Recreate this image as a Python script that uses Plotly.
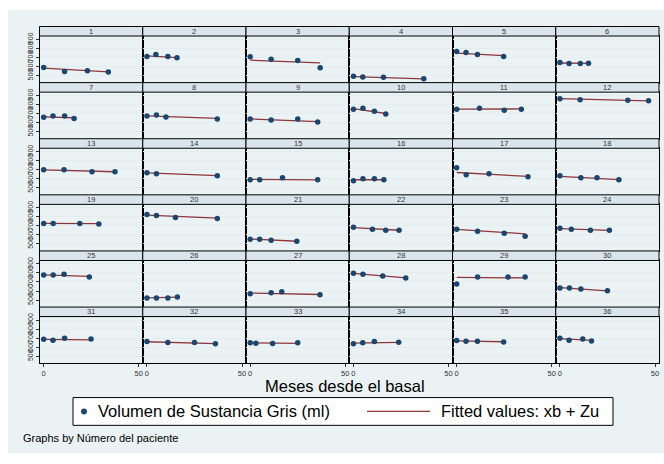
import plotly.graph_objects as go

W, H = 664, 464

patients = list(range(1, 37))
months = [
    [0, 11, 23, 34], [0, 4.7, 11, 15.8], [0, 11, 25, 36.8], [0, 4.9, 15.8, 37],
    [0, 4.9, 10.9, 24.7], [0, 4.8, 10.7, 15],
    [0, 4.9, 11, 16], [0, 5, 10, 37], [0, 11, 25, 35.5], [0, 5, 11, 17],
    [0, 12, 25, 34], [0, 10.6, 35.7, 46.6],
    [0, 10.7, 25.4, 37.5], [0, 5, 37], [0, 5, 17, 35.5], [0, 5, 11, 16],
    [0, 5, 17, 37.5], [0, 11, 19.5, 31],
    [0, 5, 19, 29], [0, 5, 15, 37], [0, 5, 11, 24.5], [0, 10, 17, 24],
    [0, 11, 25, 36], [0, 6, 16, 26],
    [0, 5, 10.7, 24], [0, 5, 11, 16], [0, 11, 16.6, 36.7], [0, 5, 15.4, 27.5],
    [0, 11, 27, 36], [0, 5, 11, 25],
    [0, 4.9, 11, 24.9], [0, 11, 25, 36], [0, 3, 11.8, 25], [0, 4.9, 11, 23.8],
    [0, 4.9, 10.9, 24.7], [0, 4.8, 12, 16.6],
]
volume = [
    [591, 547, 555, 539], [711, 733, 711, 697], [708, 681, 667, 587], [492, 485, 481, 467],
    [766, 755, 733, 711], [645, 634, 634, 638],
    [659, 673, 673, 647], [673, 684, 662, 640], [640, 629, 640, 607], [749, 760, 727, 695],
    [749, 760, 738, 749], [866, 855, 848, 842],
    [700, 700, 678, 678], [667, 656, 634], [590, 590, 612, 590], [580, 601, 601, 590],
    [722, 645, 656, 623], [634, 612, 612, 590],
    [727, 727, 727, 720], [826, 815, 793, 782], [552, 552, 541, 530], [684, 662, 651, 651],
    [662, 640, 618, 585], [673, 662, 651, 651],
    [777, 777, 787, 755], [524, 524, 524, 535], [569, 580, 591, 558], [798, 787, 766, 744],
    [678, 755, 755, 755], [634, 634, 623, 602],
    [687, 676, 698, 691], [662, 651, 651, 637], [648, 643, 640, 648], [637, 648, 662, 654],
    [673, 665, 665, 658], [698, 676, 691, 669],
]
fit_start = [583, 718, 671, 489, 748, 640, 665, 675, 642, 755, 750, 866,
             700, 665, 594, 590, 670, 627, 727, 820, 555, 680, 662, 670,
             778, 524, 578, 795, 752, 638, 686, 660, 647, 645, 670, 695]
fit_end = [541, 700, 642, 465, 722, 636, 655, 648, 612, 702, 752, 842,
           678, 635, 588, 590, 626, 592, 724, 785, 530, 652, 612, 650,
           763, 532, 562, 745, 745, 602, 680, 640, 641, 652, 660, 675]

y_ticks = [500, 600, 700, 800, 900]
x_ticks = [0, 50]

NAVY = "#1a476f"
MAROON = "#90353b"
FONT = "Liberation Sans, Arial, sans-serif"

def px(x):
    return x / W

def py(y):
    return 1 - y / H

fig = go.Figure()
shapes = []
annotations = []

# graph region background
shapes.append(dict(type="rect", xref="paper", yref="paper", x0=px(8), x1=px(664),
                   y0=py(453), y1=py(6), fillcolor="#eaf2f3", line=dict(width=0),
                   layer="below"))

PW = 103.25
LEFT0 = 39.5
TOP0 = 22.7
RH = 56.6
SH = 9.6

layout_axes = {}
for i, pid in enumerate(patients):
    r, c = divmod(i, 6)
    left = LEFT0 + c * PW
    right = left + PW
    stop = TOP0 + r * RH
    sbot = stop + SH
    pbot = stop + RH
    n = i + 1
    xa = "x" if n == 1 else f"x{n}"
    ya = "y" if n == 1 else f"y{n}"
    mx = months[i]
    fig.add_trace(go.Scatter(x=[mx[0], mx[-1]], y=[fit_start[i], fit_end[i]], mode="lines",
                             line=dict(color=MAROON, width=1.3), xaxis=xa, yaxis=ya,
                             showlegend=False, hoverinfo="skip"))
    fig.add_trace(go.Scatter(x=mx, y=volume[i], mode="markers",
                             marker=dict(color=NAVY, size=5.5), xaxis=xa, yaxis=ya,
                             showlegend=False))
    xkey = "xaxis" if n == 1 else f"xaxis{n}"
    ykey = "yaxis" if n == 1 else f"yaxis{n}"
    bottom = (r == 5)
    leftcol = (c == 0)
    layout_axes[xkey] = dict(domain=[px(left), px(right)], range=[-2.2, 52.1],
                             anchor=ya, tickvals=x_ticks, showgrid=False, zeroline=False,
                             showline=True, mirror=True, linecolor="black", linewidth=1,
                             ticks="outside" if bottom else "", ticklen=3, tickcolor="#333",
                             showticklabels=bottom,
                             tickfont=dict(size=7.5, color="#333", family=FONT))
    layout_axes[ykey] = dict(domain=[py(pbot), py(sbot)], range=[423, 938],
                             anchor=xa, tickvals=y_ticks, showgrid=True, gridcolor="#e4ecef",
                             gridwidth=1, zeroline=False,
                             showline=True, mirror=True, linecolor="black", linewidth=1,
                             ticks="outside" if leftcol else "", ticklen=3, tickcolor="#333",
                             showticklabels=leftcol, tickangle=-90,
                             tickfont=dict(size=7, color="#333", family=FONT))
    shapes.append(dict(type="rect", xref="paper", yref="paper", x0=px(left), x1=px(right),
                       y0=py(sbot), y1=py(stop), fillcolor="#d9e5ea",
                       line=dict(color="black", width=1)))
    annotations.append(dict(text=str(pid), xref="paper", yref="paper",
                            x=px((left + right) / 2), y=py((stop + sbot) / 2),
                            showarrow=False, xanchor="center", yanchor="middle",
                            font=dict(size=7.5, color="#333", family=FONT)))

# x axis title
annotations.append(dict(text="Meses desde el basal", xref="paper", yref="paper",
                        x=px(345), y=py(385), showarrow=False, xanchor="center",
                        yanchor="middle", font=dict(size=16.5, color="black", family=FONT)))

# legend (drawn)
shapes.append(dict(type="rect", xref="paper", yref="paper", x0=px(73), x1=px(613),
                   y0=py(425), y1=py(397), fillcolor="white", line=dict(color="black", width=1)))
shapes.append(dict(type="circle", xref="paper", yref="paper", x0=px(81), x1=px(87),
                   y0=py(414), y1=py(408), fillcolor=NAVY, line=dict(width=0)))
shapes.append(dict(type="line", xref="paper", yref="paper", x0=px(367), x1=px(430),
                   y0=py(411), y1=py(411), line=dict(color=MAROON, width=1.3)))
annotations.append(dict(text="Volumen de Sustancia Gris (ml)", xref="paper", yref="paper",
                        x=px(96), y=py(411), showarrow=False, xanchor="left", yanchor="middle",
                        font=dict(size=16.5, color="black", family=FONT)))
annotations.append(dict(text="Fitted values: xb + Zu", xref="paper", yref="paper",
                        x=px(439), y=py(411), showarrow=False, xanchor="left", yanchor="middle",
                        font=dict(size=16.5, color="black", family=FONT)))
annotations.append(dict(text="Graphs by Número del paciente", xref="paper", yref="paper",
                        x=px(21), y=py(438), showarrow=False, xanchor="left", yanchor="middle",
                        font=dict(size=11, color="black", family=FONT)))

fig.update_layout(width=W, height=H, margin=dict(l=0, r=0, t=0, b=0),
                  paper_bgcolor="white", plot_bgcolor="white", showlegend=False,
                  shapes=shapes, annotations=annotations, font=dict(family=FONT),
                  **layout_axes)

fig.write_html("out.html")
